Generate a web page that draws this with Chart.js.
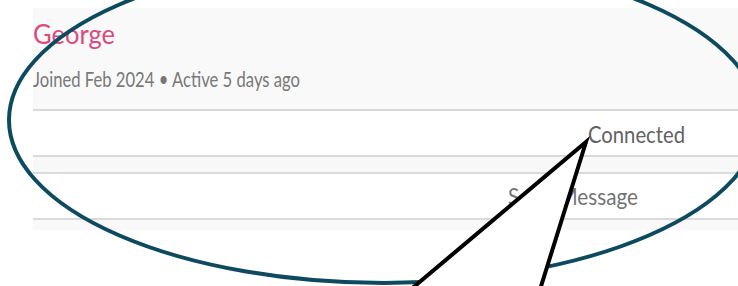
<!DOCTYPE html>
<html><head><meta charset="utf-8">
<script src="https://cdn.jsdelivr.net/npm/chart.js@4"></script>
<style>
html,body{margin:0;padding:0;background:#fff;width:738px;height:286px;overflow:hidden;}
#stage{position:relative;width:738px;height:286px;}
.band{position:absolute;left:33px;right:0;background:#f9f9f9;}
.rule{position:absolute;left:33px;right:0;height:2px;background:#dadada;}
.lbl{position:absolute;white-space:nowrap;transform-origin:0 0;font-family:Lato,"Open Sans",sans-serif;line-height:1.3;}
.bl{display:inline-block;width:0;height:0;vertical-align:baseline;}
canvas{position:absolute;left:0;top:0;}
</style></head>
<body>
<div id="stage">
  <div class="band" style="top:8px;height:102px;"></div>
  <div class="rule" style="top:109px;"></div>
  <div class="band" style="top:156px;height:17px;background:#f8f8f8;"></div>
  <div class="rule" style="top:155px;"></div>
  <div class="rule" style="top:172px;"></div>
  <div class="band" style="top:219px;height:11px;"></div>
  <div class="rule" style="top:218px;"></div>
  <div id="labels"></div>
  <canvas id="c" width="738" height="286"></canvas>
</div>
<script>
// ---- content (text) ----
const labelTexts = ["George", "Joined Feb 2024 \u2022 Active 5 days ago", "Connected", "Send Message"];
// ---- callout data (in page-pixel units of the x/y scales) ----
const calloutX = [403, 586, 538];   // bottom-left, tip, bottom-right
const calloutY = [296, 142, 296];
const ellipseCenter = [384, 120];
const ellipseRadii = [375, 163];

// label styles
const labelStyle = [
  {x:33,  base:44,  w:82,  size:27, color:'#dc4a7e'},
  {x:33,  base:87,  w:267, size:22, color:'#787878'},
  {x:588, base:143, w:97,  size:23, color:'#626262'},
  {x:508, base:205, w:130, size:23, color:'#737373'}
];
const host = document.getElementById('labels');
labelTexts.forEach((t,i)=>{
  const st = labelStyle[i];
  const el = document.createElement('div');
  el.className='lbl';
  el.style.fontSize = st.size+'px';
  el.style.color = st.color;
  el.style.left = st.x+'px';
  el.style.top = '0px';
  el.appendChild(document.createTextNode(t));
  const m = document.createElement('span'); m.className='bl'; el.appendChild(m);
  host.appendChild(el);
  const r = el.getBoundingClientRect();
  const b = m.getBoundingClientRect().top - r.top;
  el.style.top = (st.base - b)+'px';
  el.style.transform = 'scaleX('+(st.w/r.width)+')';
});

const ellipsePlugin = {
  id:'ellipse',
  beforeDatasetsDraw(chart){
    const {ctx, scales:{x,y}} = chart;
    const cx = x.getPixelForValue(ellipseCenter[0]), cy = y.getPixelForValue(ellipseCenter[1]);
    const rx = Math.abs(x.getPixelForValue(ellipseCenter[0]+ellipseRadii[0]) - cx);
    const ry = Math.abs(y.getPixelForValue(ellipseCenter[1]+ellipseRadii[1]) - cy);
    ctx.save();
    ctx.beginPath();
    ctx.ellipse(cx, cy, rx, ry, 0, 0, Math.PI*2);
    ctx.lineWidth = 4;
    ctx.strokeStyle = '#0d4a60';
    ctx.stroke();
    ctx.restore();
  }
};

new Chart(document.getElementById('c'), {
  type:'scatter',
  data:{
    datasets:[{
      data: calloutX.map((v,i)=>({x:v, y:calloutY[i]})),
      showLine:true,
      fill:'shape',
      backgroundColor:'#ffffff',
      borderColor:'#000000',
      borderWidth:4,
      borderJoinStyle:'miter',
      pointRadius:0,
      tension:0,
      clip:false
    }]
  },
  options:{
    responsive:false,
    animation:false,
    devicePixelRatio:1,
    layout:{padding:0},
    plugins:{legend:{display:false}, tooltip:{enabled:false}},
    events:[],
    scales:{
      x:{type:'linear', min:0, max:738, display:false},
      y:{type:'linear', min:0, max:286, reverse:true, display:false}
    }
  },
  plugins:[ellipsePlugin]
});
</script>
</body></html>
